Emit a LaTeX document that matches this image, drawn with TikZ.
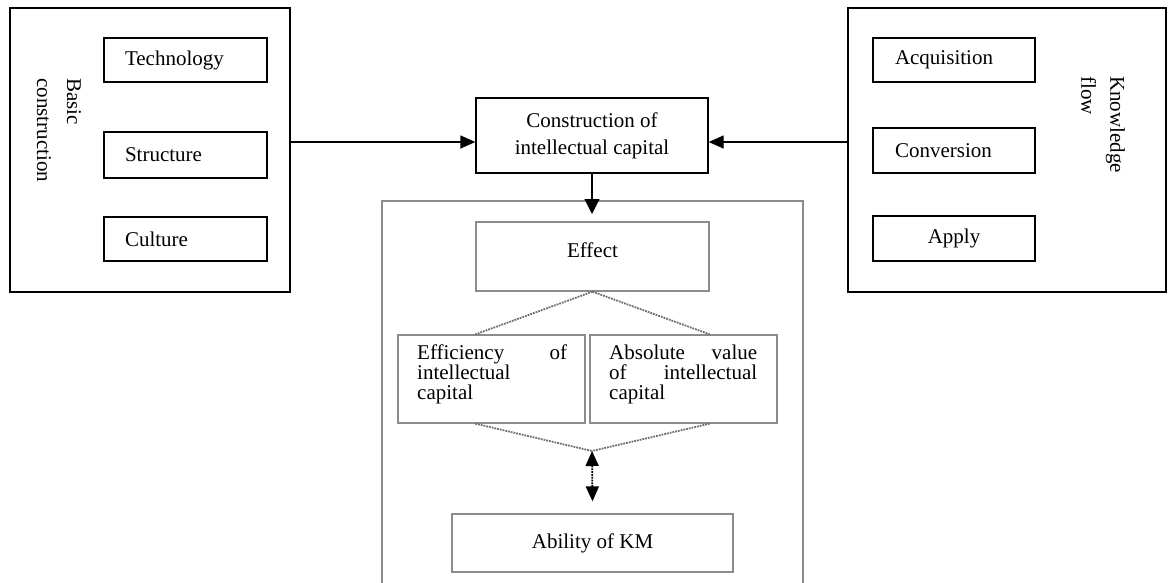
\documentclass[tikz,border=0pt]{standalone}
\usepackage{fontspec}
\setmainfont{Liberation Serif}
\usetikzlibrary{arrows.meta}
\definecolor{gline}{HTML}{8C8C8C}
\definecolor{dline}{HTML}{6E6E6E}
\begin{document}
\begin{tikzpicture}[x=1pt,y=-1pt,
  font=\fontsize{21}{21}\selectfont,
  bbox/.style={draw=black, line width=1.3pt, inner sep=0pt},
  gbox/.style={draw=gline, line width=1.3pt, inner sep=0pt},
  arr/.style={-{Triangle[length=15pt,width=13pt]}, line width=1.3pt},
  dots/.style={draw=dline, line width=1.8pt, densely dotted},
  vlabel/.style={rotate=-90, anchor=west, align=left, inner sep=0pt, font=\fontsize{21}{30}\selectfont}]
\useasboundingbox (0,0) rectangle (1168,582);
\fill[white] (0,0) rectangle (1168,582);

% left group
\node[bbox, minimum width=280pt, minimum height=284pt] (left) at (150,150) {};
\node[bbox, minimum width=163pt, minimum height=44pt, text width=121pt, inner xsep=21pt, align=left] (tech) at (185.5,60) {Technology};
\node[bbox, minimum width=163pt, minimum height=46pt, text width=121pt, inner xsep=21pt, align=left] (struc) at (185.5,155) {Structure};
\node[bbox, minimum width=163pt, minimum height=44pt, text width=121pt, inner xsep=21pt, align=left] (cult) at (185.5,239) {Culture};
\node[vlabel] (basic) at (59,78) {Basic\\construction};

% right group
\node[bbox, minimum width=318pt, minimum height=284pt] (right) at (1007,150) {};
\node[bbox, minimum width=162pt, minimum height=44pt, text width=118pt, inner xsep=22pt, align=left] (acq) at (954,60) {Acquisition};
\node[bbox, minimum width=162pt, minimum height=45pt, text width=118pt, inner xsep=22pt, align=left] (conv) at (954,150.5) {Conversion};
\node[bbox, minimum width=162pt, minimum height=45pt, text width=118pt, inner xsep=22pt, align=center] (apply) at (954,238.5) {Apply};
\node[vlabel, font=\fontsize{21}{29}\selectfont] (kflow) at (1103,76) {Knowledge\\flow};

% centre top
\node[bbox, minimum width=232pt, minimum height=75pt, align=center, font=\fontsize{21}{27}\selectfont] (ctop) at (592,135.5) {Construction of\\intellectual capital};

\coordinate (ay) at (0,142);
\draw[arr] (left.east |- ay) -- (ctop.west |- ay);
\draw[arr] (right.west |- ay) -- (ctop.east |- ay);

% container
\draw[draw=gline, line width=1.3pt] (382,583) -- (382,201) -- (803,201) -- (803,583);

\coordinate (dtip) at (592,214);
\draw[-{Triangle[length=15pt,width=15pt]}, line width=1.1pt] (ctop.south) -- (dtip);

% effect part
\node[gbox, minimum width=233pt, minimum height=69pt, text height=14pt, text depth=13pt] (eff) at (592.5,256.5) {Effect};
\node[gbox, minimum width=187pt, minimum height=88pt] (effic) at (491.5,379) {};
\node[gbox, minimum width=187pt, minimum height=88pt] (absv) at (683.5,379) {};
\node[anchor=north west, text width=150pt, align=left, inner sep=0pt, font=\fontsize{21}{20}\selectfont] (effict) at (417,345) {Efficiency\hfill of\\intellectual\\capital};
\node[anchor=north west, text width=148pt, align=left, inner sep=0pt, font=\fontsize{21}{20}\selectfont] (absvt) at (609,345) {Absolute\hfill value\\of\hfill intellectual\\capital};

\draw[dots] (eff.south) -- (effic.north -| eff.west);
\draw[dots] (eff.south) -- (absv.north -| eff.east);

\coordinate (meet) at (592,451);
\draw[dots] (effic.south -| eff.west) -- (meet);
\draw[dots] (absv.south -| eff.east) -- (meet);

\node[gbox, minimum width=281pt, minimum height=58pt] (abil) at (592.5,543) {Ability of KM};
\draw[{Triangle[length=15pt,width=13pt]}-{Triangle[length=15pt,width=13pt]}, line width=1.8pt, densely dotted] (meet) -- ([yshift=12pt]abil.north);
\end{tikzpicture}
\end{document}
